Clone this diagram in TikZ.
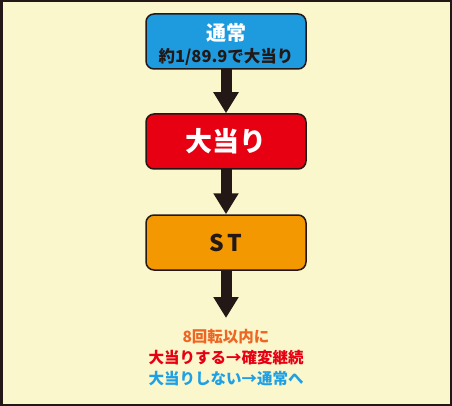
\documentclass[tikz,border=0pt]{standalone}
\usepackage{fontspec}
\newfontfamily\cjk{Noto Sans CJK JP}
\usetikzlibrary{arrows.meta}
\definecolor{bg}{HTML}{FBF7CD}
\definecolor{ink}{HTML}{231815}
\definecolor{boxblue}{HTML}{1E9BDE}
\definecolor{boxred}{HTML}{E60012}
\definecolor{boxorange}{HTML}{F39800}
\definecolor{txtorange}{HTML}{EE6623}
\definecolor{txtred}{HTML}{E60012}
\definecolor{txtblue}{HTML}{1EA0E6}
\tikzset{
  flowbox/.style={draw=ink, line width=1.5pt, rounded corners=8pt,
    minimum width=160pt, minimum height=55pt, inner sep=0pt, align=center},
  bigarrow/.style={draw=ink, line width=11pt,
    -{Triangle[width=24pt,length=21pt]}, shorten <=-1pt}
}
\begin{document}
\begin{tikzpicture}[x=1pt,y=-1pt,font=\cjk\bfseries]
\useasboundingbox (0,0) rectangle (452,406);
\fill[bg] (0,0) rectangle (452,406);
\draw[ink, line width=2.5pt] (1.25,1.25) rectangle (450.75,404.75);

\node[flowbox, fill=boxblue] (n1) at (226,41.5) {};
\node[inner sep=0pt, text=white, font=\cjk\bfseries\fontsize{20}{22}\selectfont] (n1t) at (226,33) {通常};
\node[inner sep=0pt, text=ink, font=\cjk\bfseries\fontsize{16.5}{20}\selectfont] (n1s) at (226,56.5) {約1/89.9で大当り};
\node[flowbox, fill=boxred, text=white, font=\cjk\bfseries\fontsize{27}{30}\selectfont] (n2) at (226,141.5) {大当り};
\node[flowbox, fill=boxorange, text=ink, font=\cjk\bfseries\fontsize{23}{26}\selectfont] (n3) at (226,242.5) {S\hspace{4pt}T};

\coordinate (end) at (226,318);
\node[align=center, font=\cjk\bfseries\fontsize{15.5}{21}\selectfont] (res) at (226,357.5)
  {\textcolor{txtorange}{8回転以内に}\\\textcolor{txtred}{大当りする→確変継続}\\\textcolor{txtblue}{大当りしない→通常へ}};

\draw[bigarrow] (n1.south) -- (n2.north);
\draw[bigarrow] (n2.south) -- (n3.north);
\draw[bigarrow] (n3.south) -- (end);
\end{tikzpicture}
\end{document}
